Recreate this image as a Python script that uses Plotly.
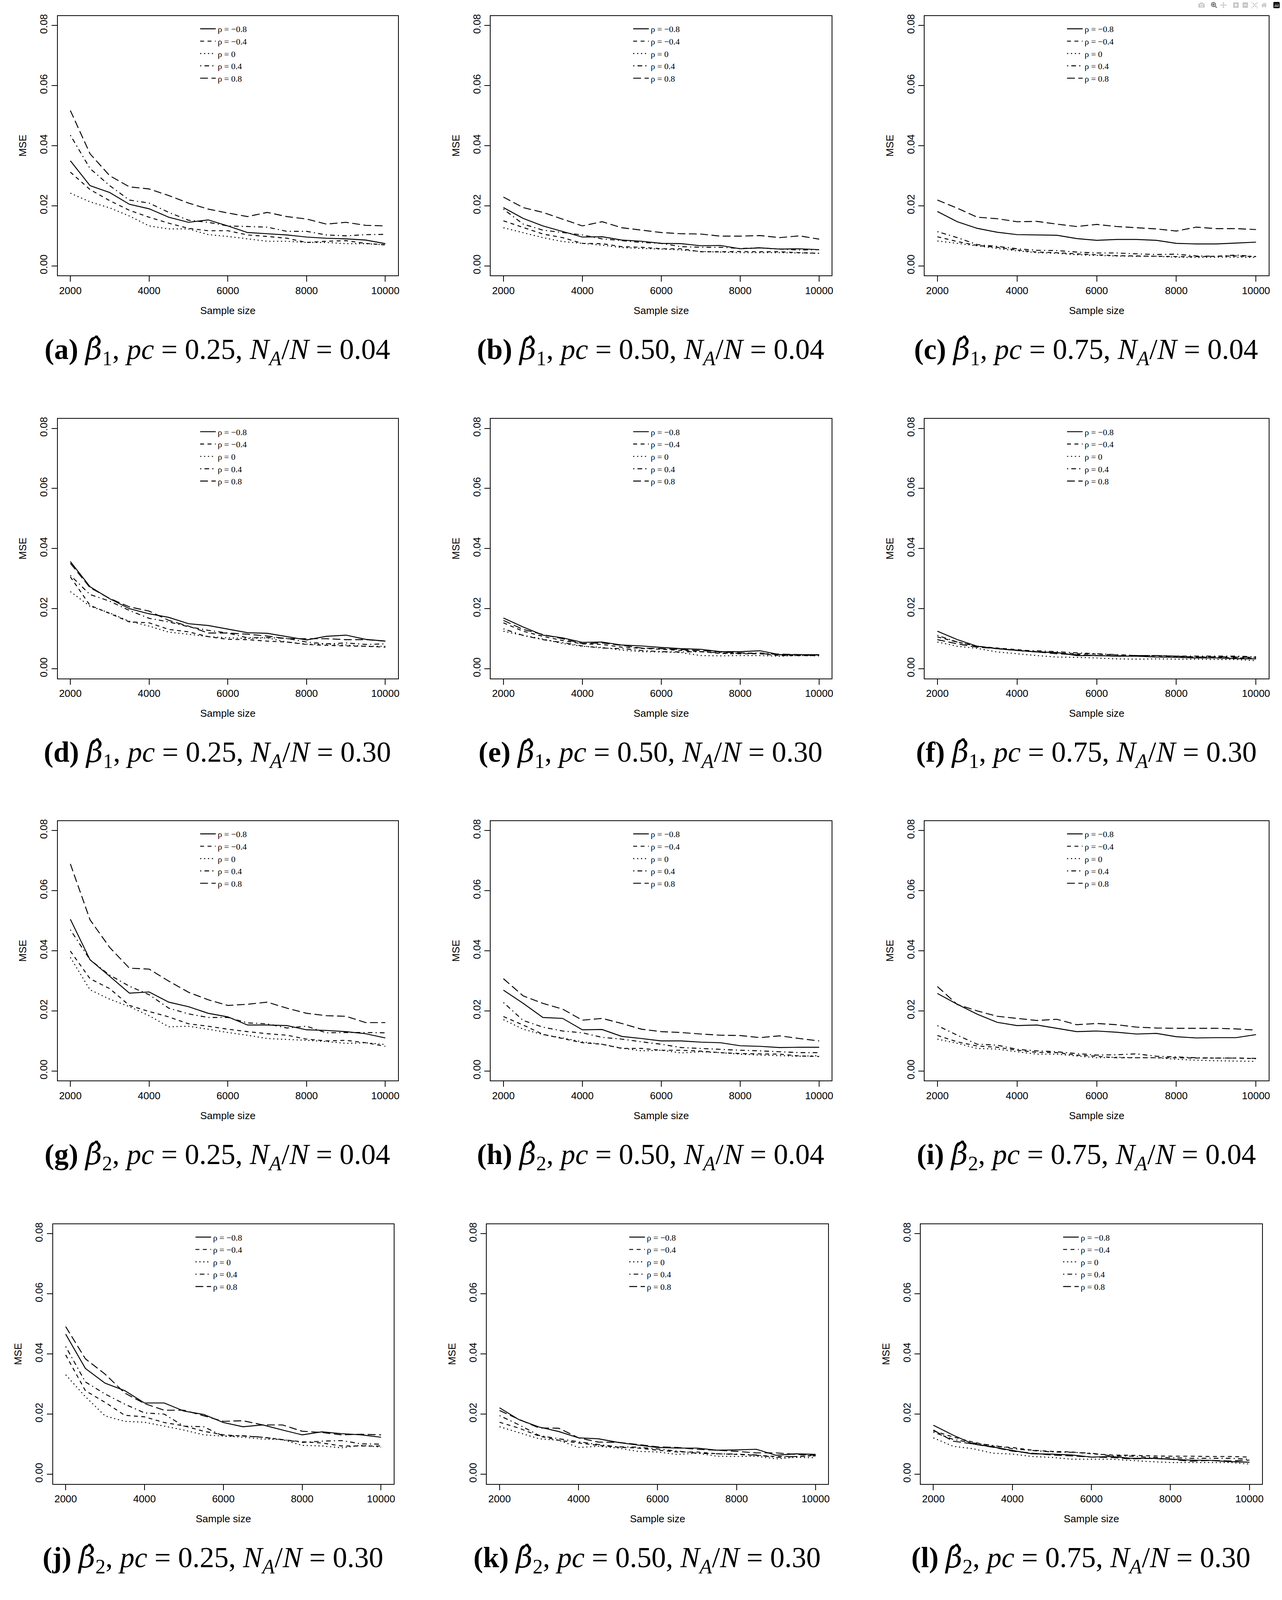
import plotly.graph_objects as go

W, H = 3282, 4609
sample_size = [2000, 2500, 3000, 3500, 4000, 4500, 5000, 5500, 6000, 6500, 7000, 7500, 8000, 8500, 9000, 9500, 10000]
rho_labels = ["ρ = −0.8", "ρ = −0.4", "ρ = 0", "ρ = 0.4", "ρ = 0.8"]
y_ticks = [0.00, 0.02, 0.04, 0.06, 0.08]
y_tick_text = ["0.00", "0.02", "0.04", "0.06", "0.08"]
x_ticks = [2000, 4000, 6000, 8000, 10000]

panel_letters = ["a", "b", "c", "d", "e", "f", "g", "h", "i", "j", "k", "l"]
panel_beta = ["1"] * 6 + ["2"] * 6
panel_pc = ["0.25", "0.50", "0.75"] * 4
panel_ratio = ["0.04"] * 3 + ["0.30"] * 3 + ["0.04"] * 3 + ["0.30"] * 3

# MSE values per panel: order rho = -0.8, -0.4, 0, 0.4, 0.8
mse_a = [
    [.035, .0267, .0244, .0205, .019, .0162, .0145, .0153, .0133, .0111, .0107, .0103, .0096, .0092, .009, .0086, .0074],
    [.0312, .0254, .0217, .0185, .0162, .0142, .0125, .0117, .0117, .0103, .0098, .0092, .0078, .0082, .0084, .0075, .007],
    [.0242, .0213, .0193, .0166, .0133, .0123, .0123, .0104, .0098, .009, .0082, .0082, .0078, .0078, .0074, .0074, .007],
    [.0435, .0324, .0267, .0219, .0209, .0178, .0152, .0145, .0133, .0131, .0129, .0115, .0115, .0103, .01, .0104, .0105],
    [.0517, .0373, .030, .0263, .0256, .0234, .0209, .0189, .0176, .0164, .0178, .0164, .0156, .0139, .0145, .0135, .0133],
]
mse_b = [
    [.0194, .0158, .0133, .0114, .0096, .0097, .0086, .0082, .0075, .0074, .0067, .0068, .0057, .006, .0056, .0057, .0054],
    [.015, .0128, .0106, .0094, .0075, .0074, .0064, .0062, .0057, .0057, .0047, .0047, .0048, .0047, .0047, .0044, .0042],
    [.0127, .0111, .0094, .0081, .0075, .0069, .0061, .0058, .0056, .0053, .0048, .0046, .0044, .0044, .0044, .0043, .0042],
    [.0189, .0139, .0119, .0111, .0103, .009, .0084, .0078, .0075, .0064, .0062, .0062, .0058, .006, .0056, .0053, .0054],
    [.0229, .0194, .0178, .0156, .0133, .0147, .0127, .0119, .0111, .0107, .0106, .0099, .0099, .0101, .0094, .010, .0089],
]
mse_c = [
    [.0181, .0147, .0125, .0112, .0104, .0103, .0102, .0091, .0085, .0088, .0088, .0085, .0075, .0073, .0073, .0076, .0079],
    [.0097, .0081, .0068, .0062, .0053, .0046, .0044, .004, .0037, .0034, .0033, .0032, .0031, .0031, .0032, .0033, .0031],
    [.0083, .0075, .0067, .0058, .005, .0044, .0042, .0037, .0035, .0033, .0032, .0032, .0029, .0028, .0029, .0029, .0028],
    [.0114, .0094, .0071, .0065, .0057, .0052, .0051, .0046, .0043, .0043, .004, .0038, .0039, .0033, .0032, .0036, .0031],
    [.0219, .0192, .0162, .0157, .0147, .0148, .0139, .0131, .0138, .0131, .0127, .0123, .0116, .0129, .0124, .0124, .0121],
]
mse_d = [
    [.0357, .0273, .0233, .020, .0183, .0171, .015, .0144, .0132, .012, .0118, .0107, .0096, .0108, .0112, .0098, .0092],
    [.0306, .0211, .0184, .0156, .0153, .0131, .0123, .0107, .0098, .0097, .0092, .0089, .0081, .0078, .0076, .0075, .0072],
    [.0257, .0208, .0186, .0158, .0142, .0122, .0115, .0107, .0103, .0101, .0103, .0089, .0082, .0082, .0079, .0075, .0075],
    [.0311, .0247, .0225, .0194, .0168, .0156, .014, .0128, .0119, .0103, .0104, .0101, .0089, .0083, .0086, .0081, .0083],
    [.0351, .027, .0234, .0206, .0192, .0161, .0142, .0119, .0119, .0115, .0109, .010, .010, .010, .0097, .0097, .0092],
]
mse_e = [
    [.0169, .0139, .0112, .0103, .0088, .0089, .0079, .0076, .0071, .0067, .0065, .0057, .0057, .006, .0047, .0047, .0047],
    [.0153, .0125, .0108, .0094, .0083, .0081, .0072, .0068, .0065, .0061, .0057, .0051, .005, .005, .0044, .0044, .0044],
    [.0125, .0111, .0099, .0084, .0075, .0071, .0062, .0057, .0056, .0054, .0044, .0043, .0044, .0044, .0042, .0044, .0043],
    [.0133, .0111, .0097, .0087, .0076, .0069, .0067, .0061, .0057, .0056, .0057, .0053, .0051, .0053, .0047, .0044, .0046],
    [.0161, .0131, .0114, .010, .0084, .0086, .0078, .0069, .0067, .0064, .0061, .0056, .0053, .005, .0049, .0047, .0046],
]
mse_f = [
    [.0125, .0097, .0075, .0067, .0061, .0056, .0054, .0044, .0044, .0042, .0042, .0039, .0038, .0036, .0036, .0034, .0033],
    [.0106, .0089, .0075, .0069, .0064, .0057, .0053, .005, .0049, .0046, .0044, .0043, .0041, .0039, .0038, .0036, .0036],
    [.0089, .0075, .0068, .0056, .005, .0044, .0039, .0038, .0036, .0033, .0032, .0033, .0032, .0032, .0031, .0031, .0027],
    [.0111, .0089, .0075, .0068, .0062, .006, .0057, .0053, .005, .0047, .0044, .0044, .0042, .0042, .0042, .0042, .004],
    [.0097, .0083, .0072, .0067, .0061, .0056, .005, .0047, .0044, .0043, .0044, .0044, .0042, .0039, .004, .0039, .0038],
]
mse_g = [
    [.0505, .037, .0315, .0259, .0263, .0229, .0214, .0192, .018, .0153, .0153, .0151, .0137, .0135, .0131, .0124, .011],
    [.0399, .0307, .0274, .0218, .0198, .018, .0157, .0149, .0139, .0131, .0124, .0119, .0106, .010, .0102, .0094, .0082],
    [.0378, .027, .0239, .0214, .0184, .0147, .0149, .0139, .0128, .0119, .0108, .0105, .0102, .0098, .0092, .0094, .0088],
    [.047, .037, .0319, .0282, .0254, .0209, .019, .0178, .0178, .016, .0157, .0143, .0149, .0127, .0128, .0128, .0127],
    [.0689, .0503, .0411, .0342, .0339, .0299, .0262, .0237, .0218, .0222, .0229, .0209, .0192, .0184, .0182, .0161, .0161],
]
mse_h = [
    [.0269, .0225, .0178, .0175, .0137, .0138, .0115, .0108, .010, .010, .0096, .0094, .0084, .0082, .0078, .0079, .0079],
    [.0181, .0153, .0122, .0108, .0094, .0089, .0075, .0075, .0069, .0069, .0066, .0061, .0058, .0057, .0056, .005, .0048],
    [.0171, .0139, .0121, .011, .0097, .0089, .0076, .0067, .0069, .006, .0064, .0061, .0056, .0053, .0051, .0049, .0051],
    [.0228, .0168, .0146, .0133, .0127, .0112, .0106, .0097, .0089, .0078, .0075, .0072, .0069, .0067, .0064, .0061, .0061],
    [.0307, .025, .0225, .0206, .0169, .0175, .0158, .0139, .0131, .0128, .0123, .0119, .0118, .0111, .0117, .0108, .010],
]
mse_i = [
    [.0258, .0222, .0189, .0162, .0151, .0153, .0142, .0131, .0133, .0129, .0123, .0125, .0114, .011, .0111, .0111, .0121],
    [.0118, .0097, .0083, .0079, .0069, .0062, .0061, .0053, .0049, .0044, .0044, .0044, .0044, .0043, .0043, .0043, .0041],
    [.0106, .0092, .0075, .0073, .0064, .0056, .0056, .005, .0044, .0046, .0044, .0044, .0039, .0036, .0034, .0033, .0032],
    [.0151, .0119, .0089, .0086, .0072, .0067, .0064, .0058, .0053, .0054, .0057, .0049, .0047, .0044, .0043, .0043, .0042],
    [.0281, .0221, .020, .0182, .0175, .0168, .0172, .0154, .0158, .0154, .0146, .0143, .0142, .0142, .0142, .014, .0136],
]
mse_j = [
    [.0466, .0352, .0303, .0278, .0237, .0237, .021, .0199, .0172, .0158, .0164, .0147, .0131, .0141, .0135, .0131, .0123],
    [.0397, .0278, .0239, .0196, .0191, .0172, .0161, .0143, .0131, .0127, .0123, .0115, .0108, .0104, .0094, .0094, .0094],
    [.0331, .0258, .0194, .0176, .0173, .016, .0147, .0131, .0127, .0123, .0117, .0115, .0096, .0094, .0088, .0096, .009],
    [.0425, .0307, .0267, .0233, .0204, .020, .016, .0158, .0127, .0128, .0123, .0115, .0106, .011, .0112, .0101, .010],
    [.0491, .0384, .0333, .027, .0235, .0213, .0213, .0194, .0176, .0178, .0164, .0164, .0143, .0139, .0131, .0133, .0131],
]
mse_k = [
    [.0221, .0181, .0157, .0142, .0121, .0118, .0106, .0097, .0089, .0087, .0087, .008, .0081, .0083, .0063, .0068, .0066],
    [.0173, .0153, .0127, .0113, .0104, .0096, .009, .0087, .008, .0074, .0074, .0068, .0066, .0063, .0059, .0059, .0063],
    [.0158, .0138, .0118, .0113, .0089, .0093, .0087, .0076, .0074, .0066, .007, .006, .0059, .006, .0051, .0056, .0055],
    [.0195, .0164, .0129, .0118, .0108, .0099, .0091, .009, .0084, .0077, .007, .0068, .0067, .0064, .0056, .0059, .0061],
    [.0212, .0182, .0154, .0153, .0121, .0107, .0106, .0099, .0091, .0089, .0083, .008, .0076, .0071, .0071, .0066, .0064],
]
mse_l = [
    [.0163, .013, .0101, .0091, .0079, .0068, .0067, .0064, .0057, .0059, .0053, .0053, .005, .0047, .0046, .0042, .004],
    [.0144, .0124, .0107, .0093, .0089, .008, .0076, .0074, .0068, .0064, .0063, .0061, .006, .006, .0059, .0059, .0057],
    [.0121, .0093, .0085, .007, .0067, .0059, .0056, .005, .005, .005, .0046, .0042, .0039, .0039, .0039, .0039, .0034],
    [.014, .0116, .0104, .0096, .0085, .0079, .0074, .0073, .007, .0061, .006, .0056, .0055, .0053, .0053, .0053, .005],
    [.0147, .011, .0101, .009, .0077, .007, .0064, .0061, .0057, .0056, .0051, .0053, .005, .0043, .0046, .0044, .0047],
]
panels = [mse_a, mse_b, mse_c, mse_d, mse_e, mse_f, mse_g, mse_h, mse_i, mse_j, mse_k, mse_l]

dashes = ["solid", "10px,9px", "3px,7px", "3px,8px,12px,8px", "20px,9px"]

col_lr = [[(148, 1020), (1258, 2132), (2370, 3252)]] * 3 + [[(136, 1009), (1248, 2123), (2360, 3235)]]
row_top = [40, 1202, 2362, 3525]
frame_h = 749

fig = go.Figure()
layout = dict(autosize=True, margin=dict(l=0, r=0, t=0, b=0),
              plot_bgcolor="white", paper_bgcolor="white", showlegend=True,
              font=dict(family="Liberation Sans", color="black"))
annotations = []
for p in range(12):
    r, c = divmod(p, 3)
    L, R = col_lr[r][c]
    T = row_top[r]
    B = T + frame_h
    n = p + 1
    xa = "x" if n == 1 else f"x{n}"
    ya = "y" if n == 1 else f"y{n}"
    lg = "legend" if n == 1 else f"legend{n}"
    for s in range(5):
        fig.add_trace(go.Scatter(x=sample_size, y=panels[p][s], mode="lines", name=rho_labels[s],
                                 line=dict(color="black", width=2.4, dash=dashes[s]),
                                 xaxis=xa, yaxis=ya, legend=lg, showlegend=True))
    axcommon = dict(showline=True, mirror=True, linecolor="black", linewidth=2, ticks="outside",
                    ticklen=14, tickwidth=2, tickcolor="black", showgrid=False, zeroline=False,
                    tickfont=dict(size=26, family="Liberation Sans", color="black"))
    layout["xaxis" if n == 1 else f"xaxis{n}"] = dict(
        axcommon, domain=[L / W, R / W], anchor=ya, range=[1680, 10320],
        tickvals=x_ticks, ticktext=[str(v) for v in x_ticks],
        title=dict(text="Sample size", font=dict(size=26), standoff=28))
    layout["yaxis" if n == 1 else f"yaxis{n}"] = dict(
        axcommon, domain=[1 - B / H, 1 - T / H], anchor=xa, range=[-0.0032, 0.0832],
        tickvals=y_ticks, ticktext=y_tick_text, tickangle=-90,
        title=dict(text="MSE", font=dict(size=26), standoff=22))
    layout[lg] = dict(x=(L + 360) / W, y=1 - (T + 14) / H, xanchor="left", yanchor="top",
                      xref="paper", yref="paper", bgcolor="rgba(0,0,0,0)", borderwidth=0,
                      font=dict(family="Liberation Serif", size=22, color="black"),
                      tracegroupgap=0, itemwidth=40)
    cap = (f"<b>({panel_letters[p]})</b> <span style=\"font-family:DejaVu Serif\"><i>β̂</i></span>"
           f"<sub>{panel_beta[p]}</sub>, <i>pc</i> = {panel_pc[p]}, "
           f"<i>N<sub>A</sub></i>/<i>N</i> = {panel_ratio[p]}")
    annotations.append(dict(text=cap, x=((L + R) / 2 - 27) / W, y=1 - (T + 966) / H,
                            xref="paper", yref="paper", xanchor="center", yanchor="middle",
                            showarrow=False, font=dict(family="Liberation Serif", size=74, color="black")))
layout["annotations"] = annotations
fig.update_layout(**layout)
fig.write_html("out.html", default_width="100%", default_height="100vh",
               config={"responsive": True},
               post_script="document.body.style.margin='0';document.documentElement.style.overflow='hidden';"
                           "Plotly.Plots.resize(document.getElementById('{plot_id}'));")
